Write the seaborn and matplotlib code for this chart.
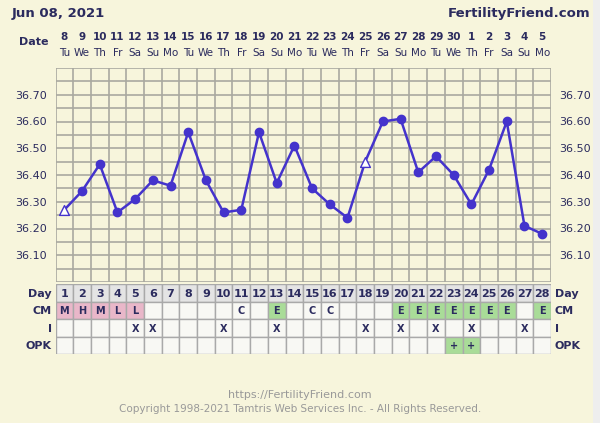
import matplotlib
matplotlib.use("Agg")
import matplotlib.pyplot as plt
import seaborn as sns
import numpy as np
from matplotlib.patches import Rectangle

dates = [8, 9, 10, 11, 12, 13, 14, 15, 16, 17, 18, 19, 20, 21, 22, 23, 24, 25, 26, 27, 28, 29, 30, 1, 2, 3, 4, 5]
weekdays = ["Tu", "We", "Th", "Fr", "Sa", "Su", "Mo", "Tu", "We", "Th", "Fr", "Sa", "Su", "Mo",
            "Tu", "We", "Th", "Fr", "Sa", "Su", "Mo", "Tu", "We", "Th", "Fr", "Sa", "Su", "Mo"]
temps = [36.27, 36.34, 36.44, 36.26, 36.31, 36.38, 36.36, 36.56, 36.38, 36.26, 36.27, 36.56, 36.37, 36.51,
         36.35, 36.29, 36.24, 36.45, 36.60, 36.61, 36.41, 36.47, 36.40, 36.29, 36.42, 36.60, 36.21, 36.18]
open_days = [1, 18]  # days drawn with an open triangle
cm = ["M", "H", "M", "L", "L", "", "", "", "", "", "C", "", "E", "", "C", "C", "", "", "",
      "E", "E", "E", "E", "E", "E", "E", "", "E"]
intercourse = ["", "", "", "", "X", "X", "", "", "", "X", "", "", "X", "", "", "", "", "X", "",
               "X", "", "X", "", "X", "", "", "X", ""]
opk = [""] * 22 + ["+", "+"] + [""] * 4

W, H = 600, 423
bg = "#f7f5dc"
ink = "#2b2b5e"
line_col = "#4433cc"
fig = plt.figure(figsize=(6, 4.23), dpi=100)
fig.patch.set_facecolor(bg)
sns.set_style("white")
plt.rcParams["font.family"] = ["DejaVu Sans"]

def fx(px):
    return px / W

def fy(py):
    return 1 - py / H

x0, x1 = 55.5, 551
days = np.arange(1, 29)

# temperature chart
ax = fig.add_axes([fx(x0), fy(282), fx(x1 - x0), (282 - 68) / H])
ax.set_facecolor(bg)
ax.set_xlim(0.5, 28.5)
ax.set_ylim(36.0, 36.8)
for v in np.arange(36.0, 36.8001, 0.05):
    ax.axhline(v, color="#a9a9a0", lw=1.2, zorder=0)
for d in np.arange(0.5, 29, 1):
    ax.axvline(d, color="#a9a9a0", lw=1.2, zorder=0)
sns.lineplot(x=days, y=temps, ax=ax, color=line_col, lw=1.8, zorder=2)
closed = [i for i in range(28) if days[i] not in open_days]
ax.scatter(days[closed], np.array(temps)[closed], s=36, color=line_col, zorder=3)
opn = [d - 1 for d in open_days]
ax.scatter(days[opn], np.array(temps)[opn], s=50, marker="^", facecolor="white",
           edgecolor=line_col, lw=1, zorder=3)
ticks = np.round(np.arange(36.1, 36.71, 0.1), 2)
ax.set_yticks(ticks)
ax.set_yticklabels([f"{t:.2f}" for t in ticks], color=ink, fontsize=8)
ax.tick_params(axis="y", length=0, pad=6, labelright=True)
ax.set_xticks([])
for s in ax.spines.values():
    s.set_visible(False)

# table of signs
tb = fig.add_axes([fx(x0), fy(354), fx(x1 - x0), (354 - 284) / H])
tb.set_xlim(0, 28)
tb.set_ylim(4, 0)
tb.axis("off")
pink, green = "#e9b7c9", "#a9dc98"
rows = [[str(d) for d in days], cm, intercourse, opk]
names = ["Day", "CM", "I", "OPK"]
for r, vals in enumerate(rows):
    for c, v in enumerate(vals):
        fc = "#e4e4e4" if r == 0 else "#f8f8f4"
        if r == 1 and v in ("M", "H", "L"):
            fc = pink
        if (r == 1 and v == "E") or (r == 3 and v == "+"):
            fc = green
        tb.add_patch(Rectangle((c, r), 1, 1, facecolor=fc, edgecolor="#a9a9a9", lw=1))
        tb.text(c + 0.5, r + 0.55, v, ha="center", va="center", color=ink,
                fontsize=8 if r == 0 else 7, fontweight="bold")
    for xx, ha in ((-0.2, "right"), (28.2, "left")):
        tb.text(xx, r + 0.55, names[r], ha=ha, va="center", color=ink, fontsize=8,
                fontweight="bold")

# header
fig.text(fx(12), fy(14), "Jun 08, 2021", color=ink, fontsize=9.5, fontweight="bold", va="center")
fig.text(fx(590), fy(14), "FertilityFriend.com", color=ink, fontsize=9.5, fontweight="bold",
         va="center", ha="right")
fig.text(fx(48), fy(42), "Date", color=ink, fontsize=8, fontweight="bold", va="center", ha="right")
for i, (d, w) in enumerate(zip(dates, weekdays)):
    cx = fx(x0 + (i + 0.5) * (x1 - x0) / 28)
    fig.text(cx, fy(37), str(d), color=ink, fontsize=7.5, fontweight="bold", ha="center", va="center")
    fig.text(cx, fy(53), w, color=ink, fontsize=7.5, ha="center", va="center")

# footer
fig.text(0.5, fy(395), "https://FertilityFriend.com", color="#999999", fontsize=8, ha="center", va="center")
fig.text(0.5, fy(409), "Copyright 1998-2021 Tamtris Web Services Inc. - All Rights Reserved.",
         color="#999999", fontsize=7.5, ha="center", va="center")

# right page strip
fig.add_artist(Rectangle((fx(593), 0), fx(7), 1, transform=fig.transFigure,
                         facecolor="#eeeeee", edgecolor="none"))

fig.savefig("out.png", dpi=100, facecolor=bg)
